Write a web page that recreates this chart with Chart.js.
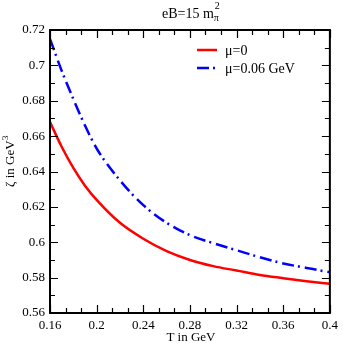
<!DOCTYPE html>
<html>
<head>
<meta charset="utf-8">
<script src="https://cdn.jsdelivr.net/npm/chart.js@4"></script>
<style>
  html, body { margin: 0; padding: 0; background: #fff; }
  #wrap { width: 343px; height: 343px; }
</style>
</head>
<body>
<div id="wrap"><canvas id="zeta"></canvas></div>
<script>
// values
var tempT = [0.16, 0.17, 0.18, 0.19, 0.20, 0.22, 0.24, 0.26, 0.28, 0.30, 0.32, 0.34, 0.36, 0.38, 0.40];
var zetaMu0 = [0.668, 0.654, 0.642, 0.632, 0.624, 0.611, 0.602, 0.595, 0.590, 0.5865, 0.584, 0.5815, 0.5797, 0.578, 0.5765];
var zetaMu006 = [0.715, 0.697, 0.681, 0.666, 0.653, 0.635, 0.621, 0.611, 0.604, 0.5995, 0.5955, 0.5915, 0.588, 0.5855, 0.583];
var xTicks = [0.16, 0.2, 0.24, 0.28, 0.32, 0.36, 0.4];
var yTicks = [0.56, 0.58, 0.6, 0.62, 0.64, 0.66, 0.68, 0.7, 0.72];

var FONT = "'Liberation Serif', 'Times New Roman', serif";

function pts(ys) {
    var out = [];
    for (var i = 0; i < tempT.length; i++) {
        out.push({x: tempT[i], y: ys[i]});
    }
    return out;
}

// frame, inward ticks, titles and legend
var decor = {
    id: 'decor',
    afterDatasetsDraw: function(chart) {
        var c = chart.ctx;
        var a = chart.chartArea;
        var sx = chart.scales.x, sy = chart.scales.y;
        var major = 8, minor = 5;
        c.save();
        c.strokeStyle = '#000';
        c.lineWidth = 1.2;
        c.beginPath();
        // x ticks, 2 minor between majors
        for (var i = 0; i < xTicks.length; i++) {
            for (var k = 0; k < 3; k++) {
                if (k > 0 && i == xTicks.length - 1) break;
                var v = xTicks[i] + k * 0.04 / 3;
                var px = Math.round(sx.getPixelForValue(v)) + 0.5;
                var len = k == 0 ? major : minor;
                c.moveTo(px, a.top); c.lineTo(px, a.top + len);
                c.moveTo(px, a.bottom); c.lineTo(px, a.bottom - len);
            }
        }
        // y ticks, 1 minor between majors
        for (var j = 0; j < yTicks.length; j++) {
            for (var m = 0; m < 2; m++) {
                if (m > 0 && j == yTicks.length - 1) break;
                var py = Math.round(sy.getPixelForValue(yTicks[j] + m * 0.01)) + 0.5;
                var l2 = m == 0 ? major : minor;
                c.moveTo(a.left, py); c.lineTo(a.left + l2, py);
                c.moveTo(a.right, py); c.lineTo(a.right - l2, py);
            }
        }
        c.stroke();
        c.lineWidth = 2;
        c.strokeRect(a.left, a.top, a.right - a.left, a.bottom - a.top);

        c.fillStyle = '#000';
        // title eB=15 m_pi^2
        c.font = '14px ' + FONT;
        c.textBaseline = 'alphabetic';
        c.textAlign = 'left';
        var t1 = 'eB=15 m';
        var w1 = c.measureText(t1).width;
        var tx = 162;
        c.fillText(t1, tx, 18);
        c.font = '10px ' + FONT;
        c.fillText('\u03c0', tx + w1, 21);
        c.fillText('2', tx + w1 + 1, 9);

        // x title
        c.font = '13px ' + FONT;
        c.textAlign = 'center';
        c.fillText('T in GeV', (a.left + a.right) / 2 + 1, 341);

        // y title, rotated
        c.save();
        c.translate(14, 187);
        c.rotate(-Math.PI / 2);
        c.textAlign = 'left';
        c.font = '13px ' + FONT;
        var t2 = '\u03b6 in GeV';
        c.fillText(t2, 0, 0);
        c.font = '9px ' + FONT;
        c.fillText('3', c.measureText ? 0 + (function(){ c.font = '13px ' + FONT; var w = c.measureText(t2).width; c.font = '9px ' + FONT; return w; })() + 0.5 : 0, -6);
        c.restore();

        // legend
        var lx = 197, ly = [50, 68];
        chart.data.datasets.forEach(function(ds, n) {
            c.save();
            c.strokeStyle = ds.borderColor;
            c.lineWidth = ds.borderWidth;
            c.setLineDash(ds.borderDash || []);
            c.beginPath();
            c.moveTo(lx, ly[n]);
            c.lineTo(lx + 20, ly[n]);
            c.stroke();
            c.restore();
            c.font = '14px ' + FONT;
            c.textAlign = 'left';
            c.textBaseline = 'middle';
            c.fillText(ds.label, 225, ly[n] + 1);
        });
        c.restore();
    }
};

var myChart = new Chart(document.getElementById('zeta').getContext('2d'), {
    type: 'line',
    data: {
        datasets: [{
            label: '\u03bc=0',
            data: pts(zetaMu0),
            borderColor: '#ff0000',
            borderWidth: 2.5,
            pointRadius: 0,
            fill: false,
            cubicInterpolationMode: 'monotone'
        },
        {
            label: '\u03bc=0.06 GeV',
            data: pts(zetaMu006),
            borderColor: '#0000ff',
            borderWidth: 2.5,
            borderDash: [12, 4, 2, 5],
            pointRadius: 0,
            fill: false,
            cubicInterpolationMode: 'monotone'
        }]
    },
    options: {
        responsive: true,
        maintainAspectRatio: false,
        animation: false,
        events: [],
        layout: { padding: { left: 0, top: 30, right: 10, bottom: 0 } },
        plugins: { legend: { display: false }, title: { display: false }, tooltip: { enabled: false } },
        scales: {
            x: {
                type: 'linear',
                min: 0.16,
                max: 0.4,
                grid: { display: false, drawTicks: false },
                border: { display: false },
                afterBuildTicks: function(s) { s.ticks = xTicks.map(function(v){ return {value: v}; }); },
                afterFit: function(s) { s.height = 30; },
                ticks: {
                    color: '#000',
                    padding: 5,
                    maxRotation: 0,
                    autoSkip: false,
                    font: { family: FONT, size: 13 },
                    callback: function(v) { return String(+v.toFixed(2)); }
                }
            },
            y: {
                min: 0.56,
                max: 0.72,
                grid: { display: false, drawTicks: false },
                border: { display: false },
                afterBuildTicks: function(s) { s.ticks = yTicks.map(function(v){ return {value: v}; }); },
                afterFit: function(s) { s.width = 50; },
                ticks: {
                    color: '#000',
                    padding: 5,
                    autoSkip: false,
                    font: { family: FONT, size: 13 },
                    callback: function(v) { return String(+v.toFixed(2)); }
                }
            }
        }
    },
    plugins: [decor]
});
</script>
</body>
</html>
